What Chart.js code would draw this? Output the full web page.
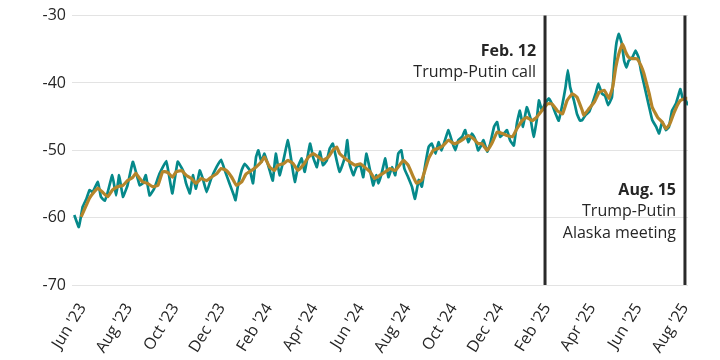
<!DOCTYPE html>
<html>
<head>
    <title>Spread</title>
    <script src="https://cdn.jsdelivr.net/npm/chart.js"></script>
    <style>
        body {
            margin: 0;
            background-color: #fff;
        }
        canvas {
            display: block;
        }
    </style>
</head>
<body>
<canvas id="spreadChart" width="720" height="360"></canvas>

<script>
    // days since Jun 1 2023
    const tealDay = [3, 9, 14, 19, 23, 27, 34, 38, 43, 47, 53, 58, 62, 67, 73, 80, 84, 89, 93, 97,
        102, 108, 115, 124, 128, 132, 139, 146, 150, 155, 159, 163, 168, 172, 177, 183, 190, 196, 201, 207,
        212, 215, 218, 223, 227, 234, 238, 242, 245, 249, 253, 260, 264, 268, 273, 278, 284, 289, 293, 297,
        302, 306, 313, 317, 322, 326, 330, 335, 339, 343, 348, 352, 359, 362, 365, 370, 374, 379, 383, 387,
        392, 396, 400, 403, 407, 412, 416, 421, 425, 429, 433, 437, 442, 447, 451, 456, 460, 464, 469, 473,
        478, 482, 486, 491, 495, 500, 504, 508, 513, 517, 521, 526, 530, 534, 537, 541, 546, 550, 555, 559,
        563, 568, 572, 576, 581, 585, 589, 593, 598, 603, 607, 611, 614, 618, 622, 627, 631, 636, 640, 645,
        649, 652, 655, 660, 664, 668, 671, 675, 680, 684, 689, 692, 697, 701, 705, 710, 713, 716, 719, 723,
        726, 729, 732, 737, 741, 745, 748, 752, 756, 760, 763, 768, 772, 776, 781, 785, 789, 794, 798, 800,
        803, 807, 810];
    const tealValue = [-59.6, -61.4, -58.4, -57.2, -55.9, -56.2, -54.7, -56.9, -57.5, -56.2, -53.7, -56.7, -53.7, -56.9, -55.2, -51.7, -53.2, -55.2, -54.9, -53.7,
        -56.7, -55.7, -53.5, -51.6, -54.0, -56.4, -51.7, -53.0, -54.9, -56.4, -53.7, -55.7, -53.0, -54.2, -56.2, -54.2, -52.5, -51.4, -53.0, -54.9,
        -56.4, -57.4, -55.4, -53.0, -52.0, -53.0, -54.9, -51.0, -50.0, -51.7, -50.5, -53.0, -54.5, -50.5, -53.7, -51.5, -48.5, -52.0, -54.7, -52.5,
        -51.2, -53.2, -49.0, -51.0, -52.5, -50.2, -52.2, -51.5, -49.7, -49.0, -51.5, -53.2, -51.0, -48.5, -52.0, -53.7, -52.5, -52.2, -54.0, -50.5,
        -53.0, -55.2, -53.7, -54.9, -53.5, -51.2, -54.0, -52.5, -53.7, -50.5, -50.0, -52.7, -54.0, -55.4, -57.2, -54.4, -55.4, -52.5, -49.5, -49.0,
        -50.5, -48.8, -50.0, -48.3, -47.0, -48.8, -50.0, -48.5, -48.0, -47.0, -48.8, -47.5, -48.3, -50.0, -49.5, -48.5, -50.2, -49.0, -46.5, -45.8,
        -48.0, -47.5, -47.0, -48.5, -49.3, -46.0, -44.1, -46.5, -43.6, -45.3, -48.0, -45.6, -42.6, -44.1, -43.1, -42.3, -43.1, -44.6, -45.6, -43.1,
        -40.6, -38.1, -40.6, -42.6, -44.6, -45.6, -45.5, -44.8, -44.3, -43.1, -41.4, -40.1, -41.6, -41.9, -43.3, -42.1, -37.2, -34.0, -32.7, -34.2,
        -36.7, -37.7, -36.7, -36.2, -35.2, -36.2, -38.1, -40.1, -42.1, -44.1, -45.5, -46.5, -47.5, -45.8, -47.0, -46.5, -44.1, -43.1, -41.6, -40.9,
        -42.3, -42.6, -43.3];

    const goldDay = [12, 19, 23, 29, 34, 40, 47, 53, 60, 67, 73, 80, 84, 89, 93, 99, 106, 113, 119, 124,
        128, 132, 137, 144, 150, 157, 163, 170, 177, 183, 190, 196, 203, 210, 216, 223, 229, 236, 242, 249,
        253, 260, 266, 271, 278, 284, 291, 297, 304, 311, 317, 324, 330, 337, 343, 348, 352, 359, 365, 372,
        379, 385, 392, 398, 405, 412, 418, 425, 432, 436, 442, 449, 453, 460, 464, 469, 475, 482, 488, 495,
        502, 508, 515, 521, 528, 534, 539, 546, 552, 559, 566, 572, 579, 585, 592, 598, 605, 611, 618, 625,
        631, 638, 645, 651, 658, 664, 671, 673, 680, 687, 693, 700, 706, 711, 715, 719, 724, 728, 732, 737,
        743, 748, 752, 759, 763, 770, 776, 781, 786, 791, 796, 800, 806, 809];
    const goldValue = [-59.9, -58.1, -57.1, -56.2, -55.6, -56.2, -56.9, -55.9, -55.4, -55.2, -54.5, -54.0, -53.4, -54.2, -54.7, -54.9, -55.4, -55.2, -53.2, -53.2,
        -53.5, -54.0, -53.2, -53.0, -53.7, -54.2, -54.9, -54.2, -54.5, -54.0, -53.5, -52.7, -53.0, -54.0, -55.2, -54.7, -53.5, -53.0, -52.5, -51.7,
        -51.0, -52.5, -53.0, -52.2, -52.0, -51.5, -52.0, -53.0, -52.2, -51.0, -50.5, -51.0, -51.5, -51.0, -50.0, -49.5, -50.5, -51.2, -51.7, -52.2,
        -52.0, -52.5, -53.2, -54.2, -53.7, -53.2, -52.7, -53.0, -52.0, -51.5, -52.2, -54.0, -54.9, -54.4, -53.0, -51.2, -50.0, -49.7, -49.3, -48.5,
        -49.0, -48.8, -48.3, -47.8, -48.3, -49.0, -49.0, -50.0, -49.0, -47.3, -47.5, -47.8, -48.0, -46.8, -45.6, -45.1, -45.6, -45.1, -44.1, -43.1,
        -43.1, -44.1, -44.6, -42.6, -41.6, -42.1, -44.1, -44.8, -43.8, -42.8, -41.4, -41.1, -42.3, -40.6, -37.7, -35.7, -34.2, -35.4, -36.2, -36.4,
        -36.4, -37.4, -38.6, -41.6, -43.6, -45.1, -45.8, -46.8, -46.1, -44.6, -43.3, -42.6, -42.3, -42.3];

    const tickDays = [14, 75, 136, 197, 259, 319, 380, 441, 502, 563, 625, 684, 745, 806];
    const tickLabels = ["Jun '23", "Aug '23", "Oct '23", "Dec '23", "Feb '24", "Apr '24", "Jun '24",
        "Aug '24", "Oct '24", "Dec '24", "Feb '25", "Apr '25", "Jun '25", "Aug '25"];

    const eventDays = [622, 806];
    const eventTitles = ['Feb. 12', 'Aug. 15'];
    const eventNotes = [['Trump-Putin call'], ['Trump-Putin', 'Alaska meeting']];

    const FONT = '"Open Sans", sans-serif';
    const TEXT = '#262626';

    // vertical event markers with their captions
    const eventLines = {
        id: 'eventLines',
        afterDatasetsDraw(chart) {
            const c = chart.ctx;
            const area = chart.chartArea;
            const xs = chart.scales.x;
            const textTop = [51, 190];
            c.save();
            eventDays.forEach((d, i) => {
                const x = xs.getPixelForValue(d);
                c.strokeStyle = '#2a2a2a';
                c.lineWidth = 3;
                c.beginPath();
                c.moveTo(x, area.top);
                c.lineTo(x, area.bottom);
                c.stroke();

                c.textAlign = 'right';
                c.textBaseline = 'middle';
                c.fillStyle = TEXT;
                c.font = 'bold 16px ' + FONT;
                c.fillText(eventTitles[i], x - 9, textTop[i]);
                c.font = '16px ' + FONT;
                eventNotes[i].forEach((t, j) => {
                    c.fillText(t, x - 9, textTop[i] + 21.5 * (j + 1));
                });
            });
            c.restore();
        }
    };

    const ctx = document.getElementById('spreadChart').getContext('2d');
    const chart = new Chart(ctx, {
        type: 'line',
        data: {
            datasets: [{
                data: goldDay.map((d, i) => ({ x: d, y: goldValue[i] })),
                borderColor: '#b5852a',
                borderWidth: 3.2,
                pointRadius: 0,
                tension: 0.1,
                order: 1
            }, {
                data: tealDay.map((d, i) => ({ x: d, y: tealValue[i] })),
                borderColor: '#05898a',
                borderWidth: 2.7,
                pointRadius: 0,
                tension: 0.1,
                order: 2
            }]
        },
        options: {
            responsive: false,
            animation: false,
            devicePixelRatio: 1,
            layout: { padding: { top: 15, right: 32, left: 0, bottom: 0 } },
            plugins: { legend: { display: false }, tooltip: { enabled: false } },
            scales: {
                x: {
                    type: 'linear',
                    min: 0,
                    max: 810,
                    grid: { display: false },
                    border: { display: false },
                    afterBuildTicks: (s) => { s.ticks = tickDays.map(v => ({ value: v })); },
                    afterFit: (s) => { s.height = 75; },
                    ticks: {
                        autoSkip: false,
                        minRotation: 58,
                        maxRotation: 58,
                        padding: 7,
                        color: TEXT,
                        font: { family: FONT, size: 16 },
                        callback: (v, i) => tickLabels[i]
                    }
                },
                y: {
                    min: -70,
                    max: -30,
                    afterFit: (s) => { s.width = 72; },
                    grid: { color: '#e3e3e3', lineWidth: 1, drawTicks: false },
                    border: { display: false },
                    ticks: {
                        stepSize: 10,
                        padding: 6,
                        color: TEXT,
                        font: { family: FONT, size: 16 }
                    }
                }
            }
        },
        plugins: [eventLines]
    });
</script>
</body>
</html>
